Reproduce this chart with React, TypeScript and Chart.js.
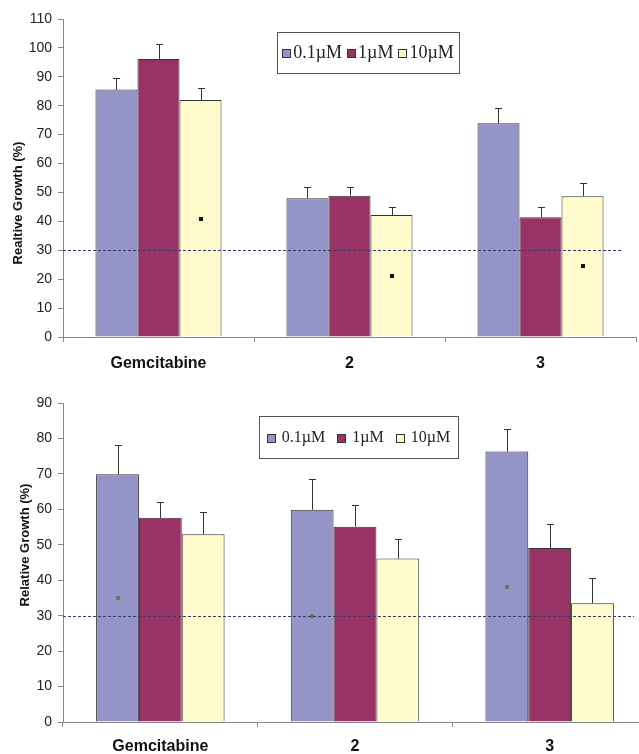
import React, { useEffect, useRef } from "react";
import { Chart, registerables } from "chart.js";

Chart.register(...registerables);

// ---------- data ----------
const categories = ["Gemcitabine", "2", "3"];
const seriesLabels = ["0.1µM", "1µM", "10µM"];
const seriesColors = ["#9494C8", "#993366", "#FFFBCC"];

// top chart
const topValues01 = [85.6, 48, 73.9];
const topValues1 = [96.2, 48.9, 41.4];
const topValues10 = [82, 42.2, 48.7];
const topErrors01 = [4.1, 4, 5.4];
const topErrors1 = [5.3, 3.1, 3.6];
const topErrors10 = [4, 2.8, 4.7];
const topMarkers = [40.8, 21.1, 24.4]; // on 10µM bars
const topYTicks = { min: 0, max: 110, step: 10 };

// bottom chart
const botValues01 = [69.9, 59.9, 76.3];
const botValues1 = [57.6, 55.1, 49.1];
const botValues10 = [53, 46.1, 33.5];
const botErrors01 = [8.2, 8.6, 6.4];
const botErrors1 = [4.4, 6.2, 6.8];
const botErrors10 = [6.3, 5.5, 7];
const botMarkers = [35.1, 30, 38.1]; // on 0.1µM bars
const botYTicks = { min: 0, max: 90, step: 10 };

const thresholdValue = 30;

const SANS = "'Liberation Sans', Arial, sans-serif";
const SERIF = "'Liberation Serif', 'Times New Roman', serif";

// ---------- plugins ----------
const errorBarsPlugin = {
  id: "errorBars",
  afterDatasetsDraw(chart: any) {
    const ctx = chart.ctx;
    const yScale = chart.scales.y;
    ctx.save();
    ctx.strokeStyle = "#333";
    ctx.lineWidth = 1;
    chart.data.datasets.forEach((ds: any, i: number) => {
      const meta = chart.getDatasetMeta(i);
      meta.data.forEach((bar: any, j: number) => {
        const v = ds.data[j];
        const e = ds.errors[j];
        const yTop = Math.round(yScale.getPixelForValue(v + e)) + 0.5;
        const x = Math.round(bar.x) + 0.5;
        ctx.beginPath();
        ctx.moveTo(x, bar.y);
        ctx.lineTo(x, yTop);
        ctx.moveTo(x - 3.5, yTop);
        ctx.lineTo(x + 3.5, yTop);
        ctx.stroke();
      });
    });
    ctx.restore();
  },
};

const markersPlugin = {
  id: "markers",
  afterDatasetsDraw(chart: any, _args: any, opts: any) {
    if (!opts || !opts.values) return;
    const ctx = chart.ctx;
    const yScale = chart.scales.y;
    const meta = chart.getDatasetMeta(opts.datasetIndex);
    ctx.save();
    ctx.fillStyle = opts.color;
    meta.data.forEach((bar: any, j: number) => {
      const y = yScale.getPixelForValue(opts.values[j]);
      const s = opts.size;
      ctx.fillRect(Math.round(bar.x - s / 2), Math.round(y - s / 2), s, s);
    });
    ctx.restore();
  },
};

const thresholdPlugin = {
  id: "threshold",
  afterDatasetsDraw(chart: any, _args: any, opts: any) {
    const ctx = chart.ctx;
    const { left, right } = chart.chartArea;
    const y = Math.round(chart.scales.y.getPixelForValue(opts.value)) + 0.5;
    ctx.save();
    ctx.strokeStyle = "#3a3a6a";
    ctx.lineWidth = 1;
    ctx.setLineDash([3, 2]);
    ctx.beginPath();
    ctx.moveTo(left, y);
    ctx.lineTo(right - opts.inset, y);
    ctx.stroke();
    ctx.restore();
  },
};

const yTitlePlugin = {
  id: "yTitle",
  afterDraw(chart: any, _args: any, opts: any) {
    const ctx = chart.ctx;
    ctx.save();
    ctx.translate(opts.x, opts.y);
    ctx.rotate(-Math.PI / 2);
    ctx.font = `bold ${opts.size}px ${SANS}`;
    ctx.fillStyle = "#111";
    ctx.textAlign = "center";
    ctx.textBaseline = "middle";
    ctx.fillText(opts.text, 0, 0);
    ctx.restore();
  },
};

const boxLegendPlugin = {
  id: "boxLegend",
  afterDraw(chart: any, _args: any, opts: any) {
    const ctx = chart.ctx;
    const b = opts.box;
    ctx.save();
    ctx.fillStyle = "#fff";
    ctx.fillRect(b.x, b.y, b.w, b.h);
    ctx.strokeStyle = "#555";
    ctx.lineWidth = 1;
    ctx.strokeRect(b.x + 0.5, b.y + 0.5, b.w, b.h);
    ctx.font = `${opts.size}px ${SERIF}`;
    ctx.textBaseline = "middle";
    ctx.textAlign = "left";
    const ds = chart.data.datasets;
    const sw = opts.swatch;
    let total = 0;
    ds.forEach((d: any, i: number) => {
      total += sw + opts.textGap + ctx.measureText(d.label).width;
      if (i < ds.length - 1) total += opts.itemGap;
    });
    let x = b.x + (b.w - total) / 2;
    const cy = b.y + b.h / 2 + 1;
    ds.forEach((d: any) => {
      ctx.fillStyle = d.backgroundColor;
      ctx.fillRect(Math.round(x), Math.round(cy - sw / 2), sw, sw);
      ctx.strokeStyle = "#333";
      ctx.strokeRect(Math.round(x) + 0.5, Math.round(cy - sw / 2) + 0.5, sw - 1, sw - 1);
      x += sw + opts.textGap;
      ctx.fillStyle = "#222";
      ctx.fillText(d.label, x, cy);
      x += ctx.measureText(d.label).width + opts.itemGap;
    });
    ctx.restore();
  },
};

function makeConfig(p: any): any {
  const datasets = [p.v01, p.v1, p.v10].map((vals: number[], i: number) => ({
    label: seriesLabels[i],
    data: vals,
    errors: [p.e01, p.e1, p.e10][i],
    backgroundColor: seriesColors[i],
    borderColor: "#333",
    borderWidth: 1,
    barPercentage: 1,
    categoryPercentage: 0.66,
  }));
  return {
    type: "bar",
    data: { labels: categories, datasets },
    plugins: [errorBarsPlugin, markersPlugin, thresholdPlugin, yTitlePlugin, boxLegendPlugin],
    options: {
      animation: false,
      responsive: false,
      maintainAspectRatio: false,
      layout: { padding: { top: p.padTop, right: p.padRight, left: 0, bottom: 0 } },
      plugins: {
        legend: { display: false },
        title: { display: false },
        tooltip: { enabled: false },
        markers: p.markers,
        threshold: { value: thresholdValue, inset: 13 },
        yTitle: p.yTitle,
        boxLegend: p.legend,
      },
      scales: {
        x: {
          type: "category",
          offset: true,
          grid: { offset: true, drawOnChartArea: false, drawTicks: true, tickLength: 5, color: "#888" },
          border: { color: "#888", width: 1 },
          ticks: {
            color: "#111",
            font: { family: SANS, size: 16, weight: "bold" },
            padding: p.xPad,
            maxRotation: 0,
            autoSkip: false,
          },
          afterFit: (s: any) => {
            s.height = p.xHeight;
            s.paddingLeft = 0;
            s.paddingRight = 0;
          },
        },
        y: {
          min: p.yTicks.min,
          max: p.yTicks.max,
          ticks: {
            stepSize: p.yTicks.step,
            color: "#222",
            font: { family: SANS, size: 14 },
            padding: 6,
          },
          grid: { drawOnChartArea: false, drawTicks: true, tickLength: 5, color: "#888" },
          border: { color: "#888", width: 1 },
          afterFit: (s: any) => {
            s.width = 63;
            s.paddingTop = 0;
            s.paddingBottom = 0;
          },
        },
      },
    },
  };
}

export default function App() {
  const topRef = useRef<HTMLCanvasElement>(null);
  const botRef = useRef<HTMLCanvasElement>(null);

  useEffect(() => {
    const top = new Chart(
      topRef.current as HTMLCanvasElement,
      makeConfig({
        v01: topValues01, v1: topValues1, v10: topValues10,
        e01: topErrors01, e1: topErrors1, e10: topErrors10,
        yTicks: topYTicks,
        padTop: 19, padRight: 3, xHeight: 43, xPad: 12,
        markers: { datasetIndex: 2, values: topMarkers, color: "#111", size: 4 },
        yTitle: { text: "Realtive Growth (%)", x: 18.5, y: 203, size: 13 },
        legend: { box: { x: 277, y: 32, w: 182, h: 41 }, size: 18, swatch: 9, textGap: 2, itemGap: 5 },
      })
    );
    const bot = new Chart(
      botRef.current as HTMLCanvasElement,
      makeConfig({
        v01: botValues01, v1: botValues1, v10: botValues10,
        e01: botErrors01, e1: botErrors1, e10: botErrors10,
        yTicks: botYTicks,
        padTop: 23, padRight: 3, xHeight: 38, xPad: 10,
        markers: { datasetIndex: 0, values: botMarkers, color: "#667a55", size: 4 },
        yTitle: { text: "Relative Growth (%)", x: 25, y: 165, size: 13 },
        legend: { box: { x: 259, y: 36, w: 199, h: 42 }, size: 16, swatch: 9, textGap: 6, itemGap: 12 },
      })
    );
    return () => {
      top.destroy();
      bot.destroy();
    };
  }, []);

  return (
    <div
      style={{
        position: "fixed",
        left: 0,
        top: 0,
        width: 639,
        height: 754,
        overflow: "hidden",
        background: "#fff",
      }}
    >
      <canvas
        ref={topRef}
        width={639}
        height={380}
        style={{ position: "absolute", left: 0, top: 0, width: 639, height: 380 }}
      />
      <canvas
        ref={botRef}
        width={650}
        height={380}
        style={{ position: "absolute", left: 0, top: 380, width: 650, height: 380 }}
      />
    </div>
  );
}
